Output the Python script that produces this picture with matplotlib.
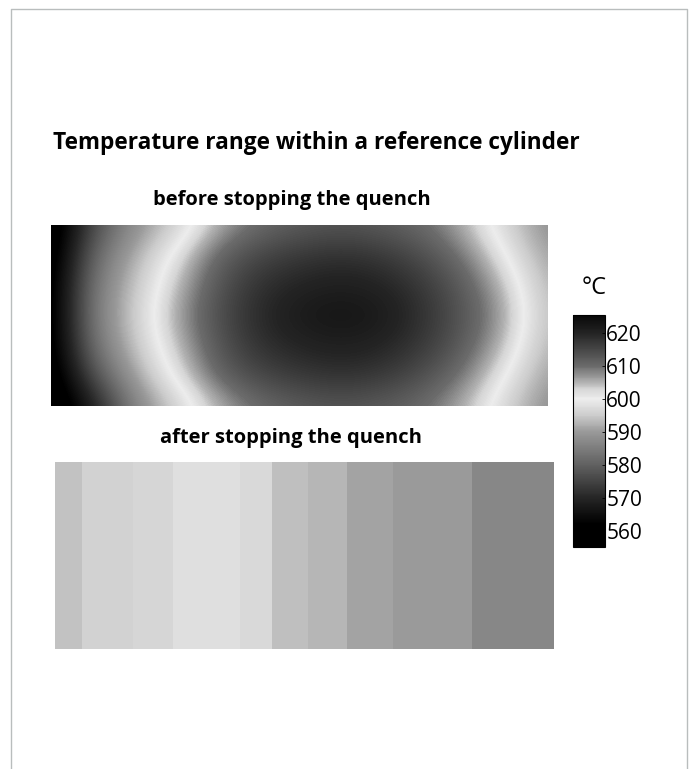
import numpy as np
import matplotlib.pyplot as plt
from matplotlib.colors import LinearSegmentedColormap
from matplotlib.lines import Line2D

# temperature field before stopping the quench (deg C), rows top -> bottom,
# columns left -> right along the cylinder
before_field = [
    [555, 576, 588, 595, 605, 610, 612, 613, 612, 610, 605, 596, 588],
    [556, 581, 592, 601, 611, 615, 617, 618, 617, 614, 609, 600, 590],
    [557, 584, 594, 604, 613, 618, 620, 621, 620, 617, 612, 604, 592],
    [557, 585, 595, 606, 614, 619, 622, 623, 622, 618, 613, 606, 593],
    [557, 583, 594, 604, 613, 618, 620, 621, 620, 617, 612, 604, 592],
    [556, 577, 591, 601, 611, 615, 617, 618, 617, 614, 609, 600, 590],
    [555, 567, 586, 595, 605, 610, 612, 613, 612, 610, 605, 596, 588],
]

# after stopping the quench: axial bands (relative position) and temperatures
after_edges = [0, 0.054, 0.156, 0.236, 0.371, 0.435, 0.507, 0.585, 0.677, 0.836, 1.0]
after_temps = [594, 595.8, 596.5, 597.7, 596.9, 593.8, 592.8, 591, 590, 586.8]

cbar_ticks = [560, 570, 580, 590, 600, 610, 620]
t_min, t_max = 555, 625.5

# grey scale: black - white (600) - black
nodes_t = [555, 562, 570, 580, 590, 595, 600, 603, 605, 610, 615, 620, 625.5]
nodes_g = [0.0, 0.0, 0.15, 0.38, 0.60, 0.80, 0.93, 0.84, 0.70, 0.42, 0.28, 0.14, 0.03]
cmap = LinearSegmentedColormap.from_list(
    'quench', [((t - t_min) / (t_max - t_min), (g, g, g)) for t, g in zip(nodes_t, nodes_g)])

plt.rcParams['font.family'] = ['Open Sans', 'DejaVu Sans']

fig = plt.figure(figsize=(6.89, 7.69), dpi=100)

# thin frame round the figure (no bottom line)
fig.add_artist(Line2D([0.016, 0.016, 0.997, 0.997], [0, 0.988, 0.988, 0],
                      transform=fig.transFigure, color='#b9bdbd', lw=1))

fig.text(0.077, 0.814, 'Temperature range within a reference cylinder',
         fontsize=16.3, fontweight='bold', ha='left', va='center')

# 1. before
ax1 = fig.add_axes([0.0740, 0.4720, 0.7199, 0.2354])
field = np.array(before_field, dtype=float)
ny, nx = field.shape
dx, dy = 1 / (nx - 1), 1 / (ny - 1)
im = ax1.imshow(field, cmap=cmap, vmin=t_min, vmax=t_max, aspect='auto',
                interpolation='bicubic', interpolation_stage='data',
                extent=[-dx / 2, 1 + dx / 2, -dy / 2, 1 + dy / 2])
ax1.set_xlim(0, 1)
ax1.set_ylim(0, 1)
ax1.axis('off')
fig.text(0.424, 0.740, 'before stopping the quench', fontsize=14.5,
         fontweight='bold', ha='center', va='center')

# 2. after
ax2 = fig.add_axes([0.0798, 0.1561, 0.7242, 0.2432])
ax2.pcolormesh(after_edges, [0, 1], [after_temps], cmap=cmap,
               vmin=t_min, vmax=t_max)
ax2.set_xlim(0, 1)
ax2.set_ylim(0, 1)
ax2.axis('off')
fig.text(0.422, 0.4304, 'after stopping the quench', fontsize=14.5,
         fontweight='bold', ha='center', va='center')

# 3. colour bar
cax = fig.add_axes([0.8316, 0.2887, 0.0464, 0.3017])
cb = fig.colorbar(im, cax=cax, ticks=cbar_ticks)
cb.outline.set_linewidth(0.8)
cax.tick_params(labelsize=15, length=2, width=0.6, direction='in', pad=1)
fig.text(0.862, 0.6255, '°C', fontsize=17, ha='center', va='center')

fig.savefig('out.png', dpi=100)
